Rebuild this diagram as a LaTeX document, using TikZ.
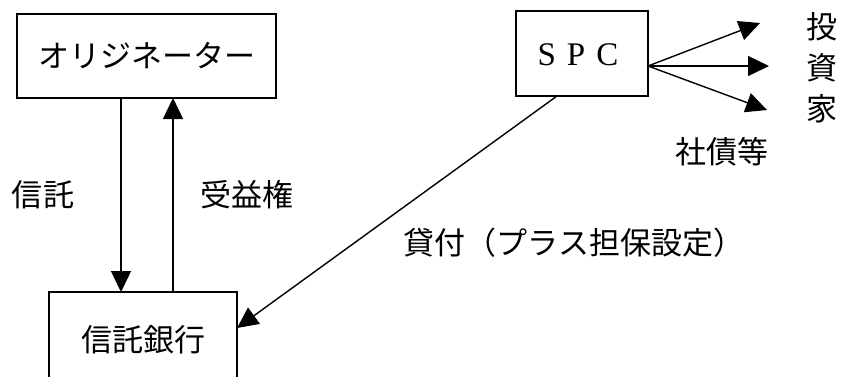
\documentclass[tikz,border=0pt]{standalone}
\usepackage{fontspec}
\setmainfont{Noto Sans CJK JP}
\newfontfamily\spcfont{Liberation Serif}
\usetikzlibrary{arrows.meta}
\begin{document}
\begin{tikzpicture}[x=1pt,y=-1pt,
  box/.style={draw,line width=1.4pt,inner sep=0pt},
  lbl/.style={font=\fontsize{31}{33}\selectfont,inner sep=0pt},
  conn/.style={line width=1.4pt,-{Triangle[length=21pt,width=20pt]}},
  plain/.style={line width=1.4pt}]
\useasboundingbox (0,0) rectangle (845,376);
\clip (0,0) rectangle (845,376);
% boxes
\node[box,minimum width=259pt,minimum height=84pt] (orig) at (146.5,56) {};
\node[lbl] at (146.5,56) {オリジネーター};
\node[box,minimum width=188pt,minimum height=100pt] (bank) at (143,342) {};
\node[lbl] (banktext) at (143,340) {信託銀行};
\node[box,minimum width=132pt,minimum height=85pt] (spc) at (582,53.5) {};
\node[font=\spcfont\fontsize{33}{35}\selectfont,inner sep=0pt] at (578,55) {S\hspace{11pt}P\hspace{11pt}C};
% coordinates
\coordinate (o1) at (121,98);
\coordinate (b1) at (121,292);
\coordinate (o2) at (173,98);
\coordinate (b2) at (173,292);
\coordinate (s0) at (557,96);
\coordinate (bR) at (237,328);
\coordinate (sR) at (648,66);
\coordinate (i1) at (760,23);
\coordinate (i2) at (769,66);
\coordinate (i3) at (767,110);
% connectors
\draw[conn] (o1) -- (b1);
\draw[conn] (b2) -- (o2);
\draw[conn] (s0) -- (bR);
\draw[conn] (sR) -- (i1);
\draw[conn] (sR) -- (i2);
\draw[conn] (sR) -- (i3);
% labels
\node[lbl] (l1) at (43,195) {信託};
\node[lbl] (l2) at (247,195) {受益権};
\node[lbl] (l3) at (574,243) {貸付（プラス担保設定）};
\node[lbl] (l4) at (722,152) {社債等};
\node[lbl] (t1) at (822,27) {投};
\node[lbl] (t2) at (822,68) {資};
\node[lbl] (t3) at (822,109) {家};
\end{tikzpicture}
\end{document}
